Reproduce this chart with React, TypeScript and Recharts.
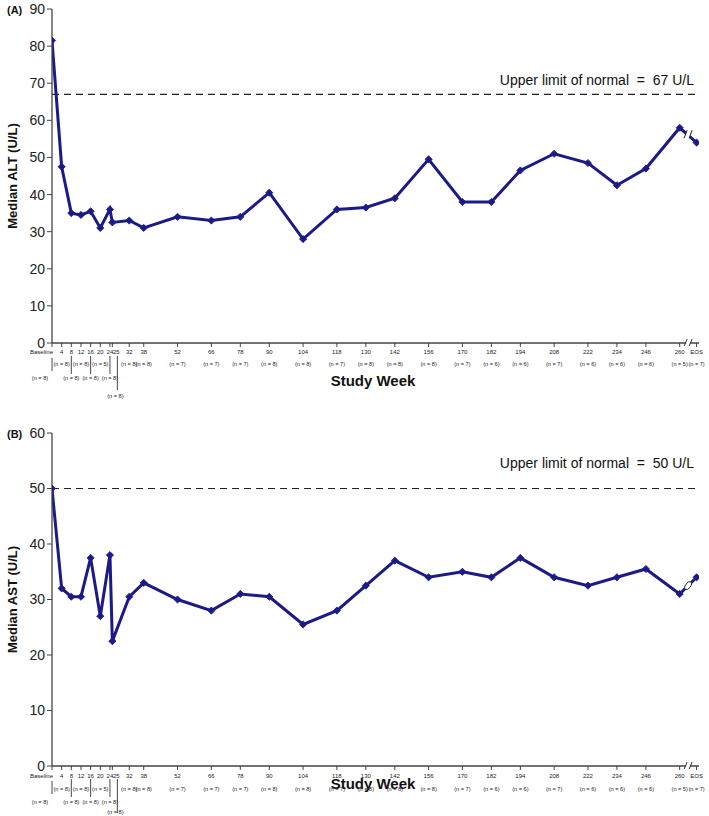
import React from 'react';
import { LineChart, Line, XAxis, YAxis, ReferenceLine, ReferenceDot } from 'recharts';

// ---- data ----
const WEEK_LABELS = ['Baseline', '4', '8', '12', '16', '20', '24', '25', '32', '38', '52', '66', '78', '90', '104', '118', '130', '142', '156', '170', '182', '194', '208', '222', '234', '246', '260', 'EOS'];
const WEEK_VALUES = [0, 4, 8, 12, 16, 20, 24, 25, 32, 38, 52, 66, 78, 90, 104, 118, 130, 142, 156, 170, 182, 194, 208, 222, 234, 246, 260, 267];
const N_COUNTS = [8, 8, 8, 8, 8, 5, 8, 8, 8, 8, 7, 7, 7, 8, 8, 7, 8, 8, 8, 7, 6, 6, 7, 6, 6, 6, 5, 7];
const ALT_MEDIAN = [81.5, 47.5, 35, 34.5, 35.5, 31, 36, 32.5, 33, 31, 34, 33, 34, 40.5, 28, 36, 36.5, 39, 49.5, 38, 38, 46.5, 51, 48.5, 42.5, 47, 58, 54];
const AST_MEDIAN = [50, 32, 30.5, 30.5, 37.5, 27, 38, 22.5, 30.5, 33, 30, 28, 31, 30.5, 25.5, 28, 32.5, 37, 34, 35, 34, 37.5, 34, 32.5, 34, 35.5, 31, 34];
const ALT_ULN = 67;
const AST_ULN = 50;
const ALT_Y_TICKS = [0, 10, 20, 30, 40, 50, 60, 70, 80, 90];
const AST_Y_TICKS = [0, 10, 20, 30, 40, 50, 60];

// ---- layout config (label rows for the crowded early weeks) ----
const N_ROW: Record<number, number> = { 0: 2, 8: 2, 16: 2, 24: 2, 25: 3 };
const N_DX: Record<number, number> = { 0: -12, 25: 3 };
const LEADERS: Record<number, [number, number, number]> = {
  0: [0, 15, 28],
  8: [0, 13, 31],
  16: [0, 13, 31],
  24: [0, 13, 31],
  25: [5, 13, 47],
};

const NAVY = '#1b1a86';
const FONT = '"Liberation Sans", Arial, sans-serif';
const DOMAIN_MAX = 268;

const altData = WEEK_VALUES.map((w, i) => ({ week: w, value: ALT_MEDIAN[i] }));
const astData = WEEK_VALUES.map((w, i) => ({ week: w, value: AST_MEDIAN[i] }));

const Diamond = (props: any) => {
  const { cx, cy, index } = props;
  if (cx == null || cy == null) return <g key={`d${index}`} />;
  const s = 3.6;
  return (
    <polygon
      key={`d${index}`}
      points={`${cx},${cy - s} ${cx + s},${cy} ${cx},${cy + s} ${cx - s},${cy}`}
      fill={NAVY}
      stroke={NAVY}
      strokeWidth={0.8}
    />
  );
};

function makeTick(rowY: number[]) {
  return (props: any) => {
    const { x, y, payload } = props;
    const axisY = y - 4;
    const w = payload.value as number;
    const i = WEEK_VALUES.indexOf(w);
    if (i < 0) return <g />;
    const label = WEEK_LABELS[i];
    const row = N_ROW[w] ?? 1;
    const dx = N_DX[w] ?? 0;
    const lead = LEADERS[w];
    const isBase = i === 0;
    const labelDx = w === 25 ? 4 : 0;
    return (
      <g>
        <text
          x={isBase ? x + 1 : x + labelDx}
          y={axisY + rowY[0]}
          textAnchor={isBase ? 'end' : 'middle'}
          fontSize={6}
          fontFamily={FONT}
          fill="#222"
        >
          {label}
        </text>
        <text
          x={x + dx}
          y={axisY + rowY[row]}
          textAnchor="middle"
          fontSize={5.6}
          fontFamily={FONT}
          fill="#222"
          style={{ whiteSpace: 'pre' }}
        >
          {`(n = ${N_COUNTS[i]})`}
        </text>
        {lead ? (
          <line x1={x + lead[0]} x2={x + lead[0]} y1={axisY + lead[1]} y2={axisY + lead[2]} stroke="#333" strokeWidth={0.9} />
        ) : null}
      </g>
    );
  };
}

const SlashBreak = (props: any) => {
  const { cx, cy } = props;
  if (cx == null) return <g />;
  return (
    <g>
      <polygon points={`${cx - 4},${cy + 3} ${cx - 1},${cy - 5} ${cx + 4},${cy - 5} ${cx + 1},${cy + 3}`} fill="#fff" />
      <line x1={cx - 4} y1={cy + 3} x2={cx - 1} y2={cy - 5} stroke="#222" strokeWidth={1} />
      <line x1={cx + 1} y1={cy + 3} x2={cx + 4} y2={cy - 5} stroke="#222" strokeWidth={1} />
    </g>
  );
};

const OvalBreak = (props: any) => {
  const { cx, cy } = props;
  if (cx == null) return <g />;
  return (
    <ellipse cx={cx} cy={cy} rx={2.5} ry={4.5} transform={`rotate(35 ${cx} ${cy})`} fill="#fff" stroke="#222" strokeWidth={0.9} />
  );
};

const AxisBreak = (props: any) => {
  const { cx, cy } = props;
  if (cx == null) return <g />;
  return (
    <g>
      <rect x={cx - 2} y={cy - 2} width={4} height={4} fill="#fff" />
      <line x1={cx - 4} y1={cy + 3} x2={cx - 1} y2={cy - 4} stroke="#333" strokeWidth={1} />
      <line x1={cx + 1} y1={cy + 3} x2={cx + 4} y2={cy - 4} stroke="#333" strokeWidth={1} />
    </g>
  );
};

function Panel(props: {
  data: { week: number; value: number }[];
  values: number[];
  yMax: number;
  yTicks: number[];
  uln: number;
  ulnDy: number;
  yLabel: string;
  panelTag: string;
  height: number;
  xAxisHeight: number;
  rowY: number[];
  studyWeekDy: number;
  lineBreak: 'slash' | 'oval';
}) {
  const { data, values, yMax, yTicks, uln, ulnDy, yLabel, panelTag, height, xAxisHeight, rowY, studyWeekDy, lineBreak } = props;
  const n = values.length;
  const top = 9;
  const plotBottom = height - xAxisHeight;
  const plotMid = (top + plotBottom) / 2;
  return (
    <LineChart width={709} height={height} data={data} margin={{ top, right: 10, bottom: 0, left: 0 }}>
      <XAxis
        dataKey="week"
        type="number"
        domain={[0, DOMAIN_MAX]}
        ticks={WEEK_VALUES}
        interval={0}
        height={xAxisHeight}
        tickSize={4}
        tickMargin={0}
        tick={makeTick(rowY)}
        axisLine={{ stroke: '#444', strokeWidth: 1.3 }}
        tickLine={{ stroke: '#444', strokeWidth: 1 }}
        allowDataOverflow
        label={(p: any) => {
          const vb = p.viewBox || {};
          const cx = 373;
          const cy = (vb.y ?? plotBottom) + studyWeekDy;
          return (
            <text x={cx} y={cy} textAnchor="middle" fontSize={15} fontWeight="bold" fontFamily={FONT} fill="#111">
              Study Week
            </text>
          );
        }}
      />
      <YAxis
        type="number"
        domain={[0, yMax]}
        ticks={yTicks}
        interval={0}
        width={52}
        tickSize={5}
        tickMargin={2}
        tick={{ fontSize: 14, fontFamily: FONT, fill: '#222' }}
        axisLine={{ stroke: '#444', strokeWidth: 1.3 }}
        tickLine={{ stroke: '#444', strokeWidth: 1 }}
        label={() => (
          <g>
            <text
              transform={`translate(17 ${plotMid}) rotate(-90)`}
              textAnchor="middle"
              fontSize={13}
              fontWeight="bold"
              fontFamily={FONT}
              fill="#111"
            >
              {yLabel}
            </text>
            <text x={7} y={top + 5} fontSize={11} fontWeight="bold" fontFamily={FONT} fill="#111">
              {panelTag}
            </text>
          </g>
        )}
      />
      <ReferenceLine
        y={uln}
        stroke="#222"
        strokeWidth={1.2}
        strokeDasharray="7 5"
        label={(p: any) => {
          const vb = p.viewBox || {};
          return (
            <text
              x={(vb.x ?? 0) + (vb.width ?? 0) - 5}
              y={(vb.y ?? 0) - ulnDy}
              textAnchor="end"
              fontSize={14}
              fontFamily={FONT}
              fill="#111"
              style={{ whiteSpace: 'pre' }}
            >
              {`Upper limit of normal  =  ${uln} U/L`}
            </text>
          );
        }}
      />
      <Line
        type="linear"
        dataKey="value"
        stroke={NAVY}
        strokeWidth={3}
        dot={Diamond}
        activeDot={false}
        isAnimationActive={false}
      />
      <ReferenceDot
        x={(WEEK_VALUES[n - 2] + WEEK_VALUES[n - 1]) / 2}
        y={(values[n - 2] + values[n - 1]) / 2}
        ifOverflow="visible"
        shape={lineBreak === 'slash' ? SlashBreak : OvalBreak}
      />
      <ReferenceDot
        x={(WEEK_VALUES[n - 2] + WEEK_VALUES[n - 1]) / 2}
        y={0}
        ifOverflow="visible"
        shape={AxisBreak}
      />
    </LineChart>
  );
}

export default function App() {
  return (
    <div style={{ position: 'absolute', left: 0, top: 0, width: 709, height: 816, background: '#fff' }}>
      <div style={{ position: 'absolute', left: 0, top: 0 }}>
        <Panel
          data={altData}
          values={ALT_MEDIAN}
          yMax={90}
          yTicks={ALT_Y_TICKS}
          uln={ALT_ULN}
          ulnDy={9}
          yLabel="Median ALT (U/L)"
          panelTag="(A)"
          height={410}
          xAxisHeight={67}
          rowY={[11, 23, 37, 55]}
          studyWeekDy={43}
          lineBreak="slash"
        />
      </div>
      <div style={{ position: 'absolute', left: 0, top: 424 }}>
        <Panel
          data={astData}
          values={AST_MEDIAN}
          yMax={60}
          yTicks={AST_Y_TICKS}
          uln={AST_ULN}
          ulnDy={21}
          yLabel="Median AST (U/L)"
          panelTag="(B)"
          height={392}
          xAxisHeight={50}
          rowY={[12, 25, 38, 48]}
          studyWeekDy={23}
          lineBreak="oval"
        />
      </div>
    </div>
  );
}
